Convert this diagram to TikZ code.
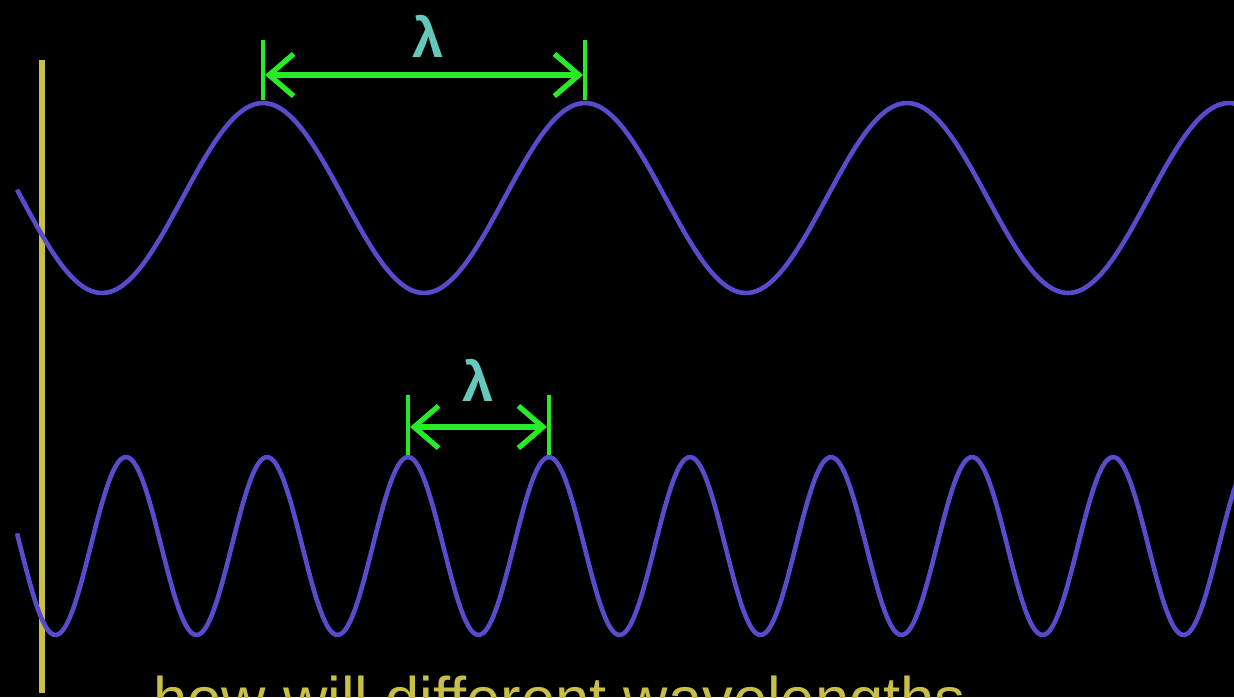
\documentclass[tikz,border=0pt]{standalone}
\usepackage{fontspec}
\setmainfont{Liberation Sans}
\usetikzlibrary{arrows.meta}
\definecolor{wavecol}{RGB}{88,76,205}
\definecolor{markcol}{RGB}{40,235,40}
\definecolor{lamcol}{RGB}{100,200,190}
\definecolor{axiscol}{RGB}{200,192,70}
\tikzset{
    wave/.style={wavecol, line width=2.6pt, smooth},
    span/.style={markcol, line width=3pt, {Straight Barb[length=14pt,width=24pt]}-{Straight Barb[length=14pt,width=24pt]}},
    tick/.style={markcol, line width=2.4pt},
    lam/.style={lamcol, font=\fontsize{32}{32}\selectfont\bfseries}
}
\begin{document}
\begin{tikzpicture}[x=0.02cm, y=-0.02cm]
    \useasboundingbox (0,0) rectangle (1234,697);
    \fill[black] (0,0) rectangle (1234,697);
    \clip (0,0) rectangle (1234,697);
    % reference line
    \draw[axiscol, line width=3.4pt] (42,60) -- (42,693);
    % long wave
    \draw[wave, samples=300, domain=17:1240] plot (\x, {198-95*cos(1.118*(\x-263))});
    % short wave
    \draw[wave, samples=400, domain=17:1240] plot (\x, {546-89*cos(2.553*(\x-408))});
    % wavelength of the long wave
    \coordinate (a1) at (263,40);
    \coordinate (a2) at (263,100);
    \coordinate (b1) at (585,40);
    \coordinate (b2) at (585,100);
    \draw[tick] (a1) -- (a2);
    \draw[tick] (b1) -- (b2);
    \draw[span] (265,75) -- (583,75);
    \node[lam] (lamtop) at (428,36) {λ};
    % wavelength of the short wave
    \coordinate (c1) at (408,395);
    \coordinate (c2) at (408,455);
    \coordinate (d1) at (549,395);
    \coordinate (d2) at (549,455);
    \draw[tick] (c1) -- (c2);
    \draw[tick] (d1) -- (d2);
    \draw[span] (410,427) -- (547,427);
    \node[lam] (lambot) at (478,380) {λ};
    % caption
    \node[axiscol, anchor=base west, inner sep=0pt, font=\fontsize{35}{35}\selectfont] (caption) at (153,720) {how will different wavelengths};
\end{tikzpicture}
\end{document}
